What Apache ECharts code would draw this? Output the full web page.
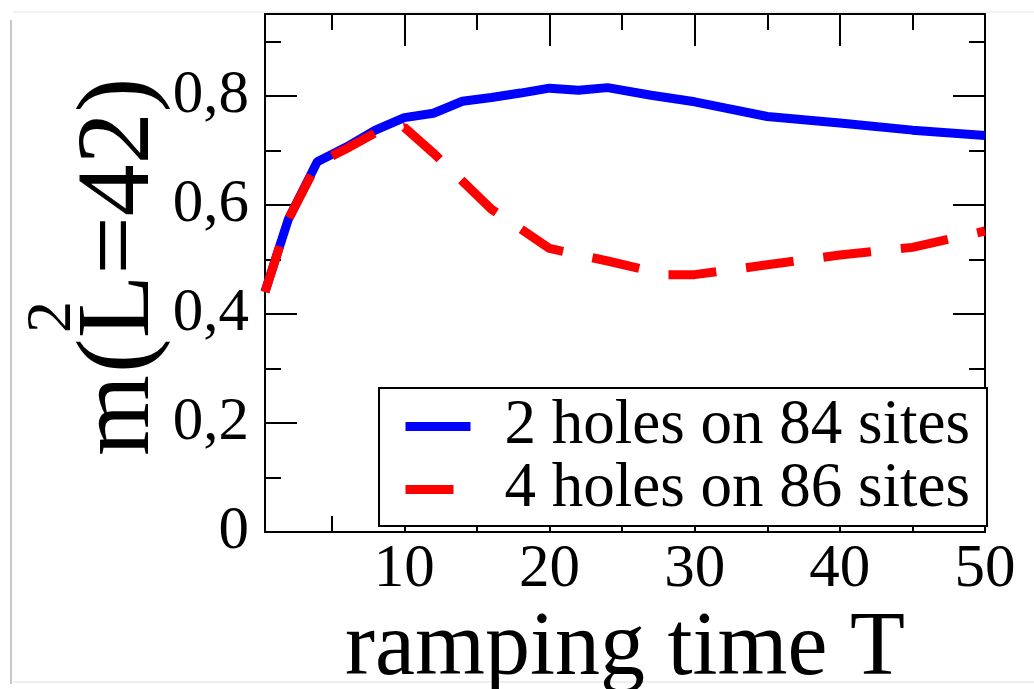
<!DOCTYPE html>
<html><head><meta charset="utf-8">
<script src="https://cdn.jsdelivr.net/npm/echarts@6/dist/echarts.min.js"></script>
<style>html,body{margin:0;padding:0;background:#fff}#c{width:1034px;height:689px}</style>
</head><body><div id="c"></div>
<script>
// ---- data ----
const seriesNames = ['2 holes on 84 sites', '4 holes on 86 sites'];
const T_blue  = [0.4, 2, 4, 6, 8, 10, 12, 14, 16, 18, 20, 22, 24, 27, 30, 35, 40, 45, 50];
const m2_blue = [0.441, 0.573, 0.679, 0.706, 0.737, 0.760, 0.768, 0.790, 0.797, 0.805, 0.814, 0.810, 0.815, 0.801, 0.789, 0.762, 0.750, 0.737, 0.727];
const T_red   = [0.4, 2, 4, 6, 8, 10, 12, 16, 20, 24, 28, 30, 35, 40, 45, 50];
const m2_red  = [0.440, 0.573, 0.676, 0.703, 0.732, 0.742, 0.695, 0.592, 0.520, 0.497, 0.472, 0.472, 0.490, 0.508, 0.522, 0.552];
const xMajorTicks = [10, 20, 30, 40, 50];
const xMinorTicks = [5, 15, 25, 35, 45];
const yMajorTicks = [0, 0.2, 0.4, 0.6, 0.8];
const yMinorTicks = [0.1, 0.3, 0.5, 0.7, 0.9];
const xTitle = 'ramping time T';

// ---- chart ----
const FONT = "'Liberation Serif', 'Times New Roman', serif";
const X_MIN = 0.4, X_MAX = 50, Y_MIN = 0, Y_MAX = 0.95;
const BLACK = '#000';

function xAx(pos, ticks, len, showLine, showLabels) {
  return {
    type: 'value', position: pos, min: X_MIN, max: X_MAX, gridIndex: 0,
    axisLine: { show: showLine, onZero: false, lineStyle: { color: BLACK, width: 2 } },
    axisTick: { show: true, inside: true, length: len, customValues: ticks, lineStyle: { color: BLACK, width: 2 } },
    axisLabel: showLabels ? { show: true, customValues: ticks, margin: 7, color: BLACK, fontFamily: FONT, fontSize: 61 } : { show: false },
    splitLine: { show: false }
  };
}
function yAx(pos, ticks, len, showLine, showLabels) {
  return {
    type: 'value', position: pos, min: Y_MIN, max: Y_MAX, gridIndex: 0,
    axisLine: { show: showLine, onZero: false, lineStyle: { color: BLACK, width: 2 } },
    axisTick: { show: true, inside: true, length: len, customValues: ticks, lineStyle: { color: BLACK, width: 2 } },
    axisLabel: showLabels ? { show: true, customValues: ticks, margin: 16, color: BLACK, fontFamily: FONT, fontSize: 61,
      formatter: v => String(v).replace('.', ',') } : { show: false },
    splitLine: { show: false }
  };
}

const xMain = xAx('bottom', xMajorTicks, 32, true, true);
xMain.name = xTitle;
xMain.nameLocation = 'middle';
xMain.nameGap = 59;
xMain.nameTextStyle = { color: BLACK, fontFamily: FONT, fontSize: 90 };

const chart = echarts.init(document.getElementById('c'), null, { renderer: 'canvas' });
chart.setOption({
  animation: false,
  backgroundColor: '#fff',
  grid: { left: 265, right: 49, top: 14, bottom: 157, containLabel: false, outerBoundsMode: 'none' },
  xAxis: [
    xMain,
    xAx('bottom', xMinorTicks, 16, false, false),
    xAx('top', xMajorTicks, 32, true, false),
    xAx('top', xMinorTicks, 16, false, false)
  ],
  yAxis: [
    yAx('left', yMajorTicks, 32, true, true),
    yAx('left', yMinorTicks, 16, false, false),
    yAx('right', yMajorTicks, 32, true, false),
    yAx('right', yMinorTicks, 16, false, false)
  ],
  legend: {
    left: 379, top: 388, orient: 'vertical',
    backgroundColor: '#fff', borderColor: BLACK, borderWidth: 2, borderRadius: 0,
    padding: [7, 17, 5, 22], itemGap: 0, itemWidth: 65, itemHeight: 10,
    lineStyle: { width: 9 },
    textStyle: { fontFamily: FONT, fontSize: 63, color: BLACK, lineHeight: 61, padding: [0, 0, 0, 29] },
    data: seriesNames,
    z: 10
  },
  graphic: [
    { type: 'line', silent: true, z: -10, shape: { x1: 11, y1: 20, x2: 11, y2: 684 }, style: { stroke: '#c8c8c8', lineWidth: 2 } },
    { type: 'line', silent: true, z: -10, shape: { x1: 13, y1: 12, x2: 1034, y2: 12 }, style: { stroke: '#f2f2f2', lineWidth: 2 } },
    { type: 'line', silent: true, z: -10, shape: { x1: 13, y1: 682, x2: 1034, y2: 682 }, style: { stroke: '#eeeeee', lineWidth: 2 } },
    { type: 'text', x: 121, y: 456, rotation: Math.PI / 2,
      style: { text: 'm', fontSize: 104, fontFamily: FONT, fill: BLACK, align: 'left', verticalAlign: 'middle' } },
    { type: 'text', x: 53, y: 333, rotation: Math.PI / 2,
      style: { text: '2', fontSize: 64, fontFamily: FONT, fill: BLACK, align: 'left', verticalAlign: 'middle' } },
    { type: 'text', x: 121, y: 373, rotation: Math.PI / 2,
      style: { text: '(L=42)', fontSize: 104, fontFamily: FONT, fill: BLACK, align: 'left', verticalAlign: 'middle' } }
  ],
  series: [
    { name: seriesNames[0], type: 'line', xAxisIndex: 0, yAxisIndex: 0, symbol: 'rect', showSymbol: false, smooth: false,
      data: T_blue.map((t, i) => [t, m2_blue[i]]),
      itemStyle: { color: '#0000ff' },
      lineStyle: { color: '#0000ff', width: 9, type: 'solid' }, z: 2 },
    { name: seriesNames[1], type: 'line', xAxisIndex: 0, yAxisIndex: 0, symbol: 'rect', showSymbol: false, smooth: false,
      data: T_red.map((t, i) => [t, m2_red[i]]),
      itemStyle: { color: '#ff0000' },
      lineStyle: { color: '#ff0000', width: 9, type: [48, 30], cap: 'butt' }, z: 3 }
  ]
});
</script>
</body></html>
